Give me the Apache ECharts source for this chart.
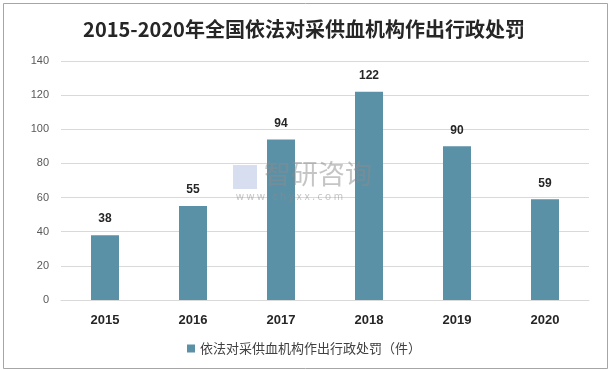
<!DOCTYPE html>
<html><head><meta charset="utf-8">
<script src="https://cdn.jsdelivr.net/npm/echarts@6/dist/echarts.min.js"></script>
<style>html,body{margin:0;padding:0;background:#fff}#c{width:608px;height:370px}</style>
</head><body><div id="c"></div>
<script>
const categories = ['2015','2016','2017','2018','2019','2020'];
const values = [38, 55, 94, 122, 90, 59];
const seriesName = '依法对采供血机构作出行政处罚（件）';
const titleText = '2015-2020年全国依法对采供血机构作出行政处罚';

const chart = echarts.init(document.getElementById('c'));
chart.setOption({
  animation: false,
  backgroundColor: '#fff',
  title: {
    text: titleText, left: 'center', top: 14,
    textStyle: {fontFamily: 'Noto Sans CJK SC', fontSize: 20, fontWeight: 'bold', color: '#262626'}
  },
  graphic: [
    {type: 'rect', left: 1, top: 1, shape: {width: 604, height: 365}, style: {fill: 'none', stroke: '#a6a6a6', lineWidth: 1}, silent: true},
    {type: 'text', left: 264, top: 160, style: {text: '智研咨询', fontFamily: 'Noto Sans CJK SC', fontSize: 27, fill: 'rgba(140,140,140,0.5)'}, z: 10},
    {type: 'text', left: 236, top: 192, style: {text: 'w w w . c h y x x . c o m', fontFamily: 'Noto Sans', fontSize: 10, fill: 'rgba(140,140,140,0.5)'}, z: 10},
    {type: 'rect', left: 233, top: 165, shape: {width: 24, height: 24}, style: {fill: 'rgba(140,160,210,0.35)'}, z: 10}
  ],
  legend: {
    bottom: 10, left: 'center', itemWidth: 8, itemHeight: 8, icon: 'rect',
    textStyle: {fontFamily: 'Noto Sans CJK SC', fontSize: 13, color: '#404040'},
    data: [seriesName]
  },
  grid: {left: 61, right: 19, top: 61, bottom: 70},
  xAxis: {
    type: 'category', data: categories,
    axisLine: {lineStyle: {color: '#d9d9d9'}},
    axisTick: {show: false},
    axisLabel: {fontFamily: 'Liberation Sans', fontWeight: 'bold', fontSize: 13, color: '#262626', margin: 14}
  },
  yAxis: {
    type: 'value', min: 0, max: 140, interval: 20,
    axisLine: {show: false}, axisTick: {show: false},
    splitLine: {lineStyle: {color: '#d9d9d9'}},
    axisLabel: {fontFamily: 'Liberation Sans', fontSize: 11, color: '#595959', margin: 12}
  },
  series: [{
    name: seriesName, type: 'bar', data: values, barWidth: 28,
    itemStyle: {color: '#5b91a7'},
    label: {show: true, position: 'top', distance: 10, fontFamily: 'Liberation Sans', fontWeight: 'bold', fontSize: 12, color: '#262626'}
  }]
});
</script></body></html>
